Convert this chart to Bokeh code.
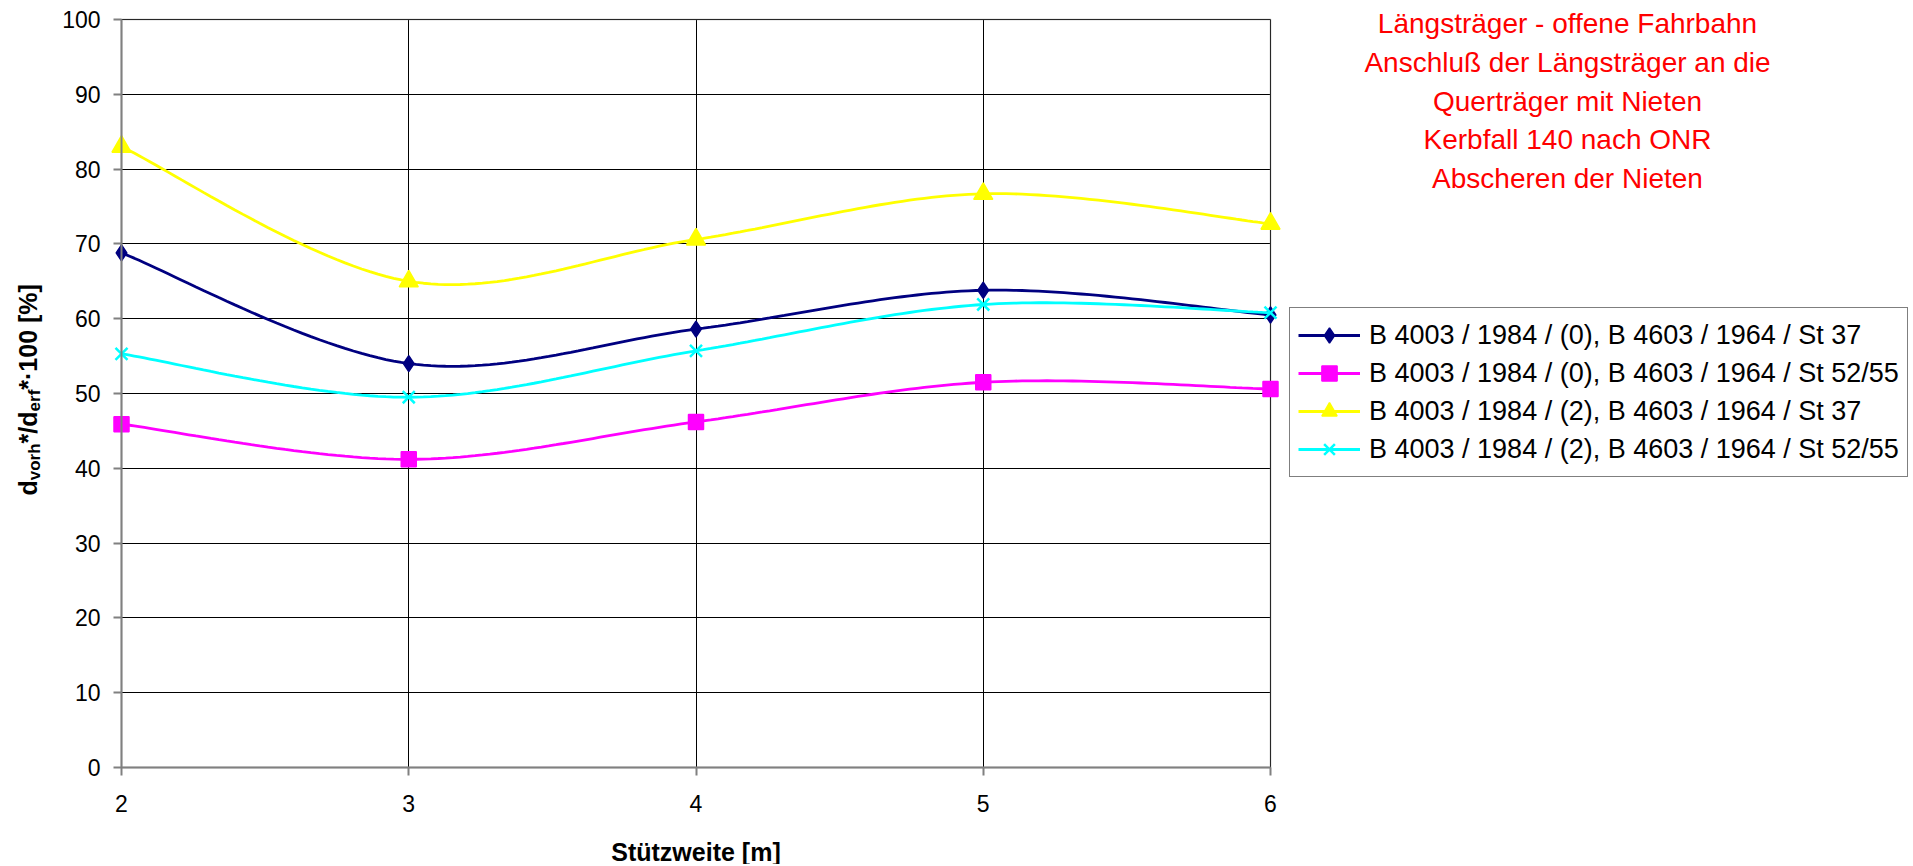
import numpy as np
from bokeh.plotting import figure
from bokeh.models import (Label, Legend, LegendItem, Range1d, FixedTicker,
                          LinearAxis, Grid, BoxAnnotation)
from bokeh.embed import file_html
from bokeh.resources import INLINE

# ---------------- data ----------------
x_values = [2, 3, 4, 5, 6]
series_names = [
    "B 4003 / 1984 / (0), B 4603 / 1964 / St 37",
    "B 4003 / 1984 / (0), B 4603 / 1964 / St 52/55",
    "B 4003 / 1984 / (2), B 4603 / 1964 / St 37",
    "B 4003 / 1984 / (2), B 4603 / 1964 / St 52/55",
]
s_0_st37 = [68.8, 54.0, 58.6, 63.8, 60.5]
s_0_st52 = [45.9, 41.2, 46.2, 51.5, 50.6]
s_2_st37 = [83.0, 65.0, 70.6, 76.7, 72.7]
s_2_st52 = [55.3, 49.5, 55.7, 61.9, 60.8]
y_ticks = [0, 10, 20, 30, 40, 50, 60, 70, 80, 90, 100]
x_ticks = [2, 3, 4, 5, 6]
title_lines = [
    "Längsträger - offene Fahrbahn",
    "Anschluß der Längsträger an die",
    "Querträger mit Nieten",
    "Kerbfall 140 nach ONR",
    "Abscheren der Nieten",
]
x_title = "Stützweite [m]"

FONT = "Liberation Sans"
W, H = 1911, 864
# plot area in page pixels
PL, PR, PT, PB = 121, 1270, 19, 767
X0, X1, Y0, Y1 = 2, 6, 0, 100


def smooth(xs, ys, n=40):
    """Excel-like smoothed line (Catmull-Rom as cubic Bezier) through the points."""
    x = np.asarray(xs, float)
    y = np.asarray(ys, float)
    px = np.concatenate([[x[0]], x, [x[-1]]])
    py = np.concatenate([[y[0]], y, [y[-1]]])
    t = np.linspace(0, 1, n)
    ox, oy = [], []
    for i in range(len(x) - 1):
        p0 = np.array([px[i], py[i]])
        p1 = np.array([px[i + 1], py[i + 1]])
        p2 = np.array([px[i + 2], py[i + 2]])
        p3 = np.array([px[i + 3], py[i + 3]])
        c1 = p1 + (p2 - p0) / 6.0
        c2 = p2 - (p3 - p1) / 6.0
        b = ((1 - t) ** 3)[:, None] * p1 + (3 * (1 - t) ** 2 * t)[:, None] * c1 \
            + (3 * (1 - t) * t ** 2)[:, None] * c2 + (t ** 3)[:, None] * p2
        if i > 0:
            b = b[1:]
        ox.extend(b[:, 0])
        oy.extend(b[:, 1])
    return ox, oy


# the frame covers the whole canvas; ranges chosen so the plot area sits at PL..PR, PT..PB
kx = (PR - PL) / (X1 - X0)
ky = (PB - PT) / (Y1 - Y0)
x_range = Range1d(X0 - PL / kx, X0 + (W - PL) / kx)
y_range = Range1d(Y0 - (H - PB) / ky, Y1 + PT / ky)

p = figure(
    width=W, height=H, x_range=x_range, y_range=y_range,
    x_axis_location=None, y_axis_location=None, min_border=0,
    output_backend="svg", toolbar_location=None,
    background_fill_color="white", border_fill_color="white",
)
p.outline_line_color = None
p.center = [r for r in p.center if not isinstance(r, Grid)]

# grid lines limited to the plot area
gx = Grid(dimension=0, ticker=FixedTicker(ticks=x_ticks), bounds=(X0, X1),
          cross_bounds=(Y0, Y1), grid_line_color="black", grid_line_width=1)
gy = Grid(dimension=1, ticker=FixedTicker(ticks=y_ticks), bounds=(Y0, Y1),
          cross_bounds=(X0, X1), grid_line_color="black", grid_line_width=1)
p.add_layout(gx)
p.add_layout(gy)

# grey plot-area border
p.add_layout(BoxAnnotation(left=X0, right=X1, bottom=Y0, top=Y1,
                           fill_alpha=0, line_color="#808080", line_width=2,
                           level="underlay"))

# axes at fixed positions
yax = LinearAxis(fixed_location=X0, bounds=(Y0, Y1), ticker=FixedTicker(ticks=y_ticks))
xax = LinearAxis(fixed_location=Y0, bounds=(X0, X1), ticker=FixedTicker(ticks=x_ticks))
for ax in (xax, yax):
    ax.axis_line_color = "#808080"
    ax.axis_line_width = 2
    ax.major_tick_line_color = "#808080"
    ax.major_tick_line_width = 2
    ax.major_tick_out = 8
    ax.major_tick_in = 0
    ax.minor_tick_line_color = None
    ax.major_label_text_font = FONT
    ax.major_label_text_font_size = "23px"
    ax.major_label_text_color = "black"
yax.major_label_standoff = 13
xax.major_label_standoff = 19
p.add_layout(yax, "left")
p.add_layout(xax, "below")

# ---------------- series ----------------
specs = [
    (s_0_st37, "#000080", "diamond", 16),
    (s_0_st52, "#FF00FF", "square", 15),
    (s_2_st37, "#FFFF00", "triangle", 19),
    (s_2_st52, "#00FFFF", "x", 17),
]
items = []
for name, (vals, color, marker, size) in zip(series_names, specs):
    sx, sy = smooth(x_values, vals)
    lr = p.line(sx, sy, line_color=color, line_width=2.8)
    if marker == "x":
        mr = p.scatter(x_values, vals, marker="x", size=size, line_color=color,
                       line_width=2.5)
    else:
        mr = p.scatter(x_values, vals, marker=marker, size=size,
                       fill_color=color, line_color=color, line_width=1.5)
    items.append(LegendItem(label=name, renderers=[lr, mr]))

legend = Legend(
    items=items, location=(1289, H - 477),
    label_text_font=FONT, label_text_font_size="27px", label_text_color="black",
    glyph_width=62, glyph_height=38, label_height=38, label_standoff=9,
    spacing=0, padding=8, margin=0,
    border_line_color="black", border_line_width=1,
    background_fill_color="white", background_fill_alpha=1.0,
)
p.add_layout(legend)


def shift(fs):
    # Bokeh puts the alphabetic baseline a little below the anchor; compensate
    return 0.32 * fs


# ---------------- title (red, top right) ----------------
for k, line in enumerate(title_lines):
    bl = 32 + 38.8 * k
    p.add_layout(Label(
        x=1567, y=H - bl + shift(28), x_units="screen", y_units="screen",
        text=line, text_align="center", text_baseline="alphabetic",
        text_color="#FF0000", text_font=FONT, text_font_size="28px",
    ))

# ---------------- x axis title ----------------
p.add_layout(Label(
    x=(PL + PR) / 2, y=H - 859 + shift(25), x_units="screen", y_units="screen",
    text=x_title, text_align="center", text_baseline="alphabetic",
    text_color="black", text_font=FONT, text_font_size="25px",
    text_font_style="bold",
))

# ---------------- y axis title with sub-scripts (rotated) ----------------
adv = {"d": .611, "v": .556, "o": .611, "r": .389, "h": .611, "*": .389,
       "/": .278, "e": .556, "f": .333, "·": .278, " ": .278, "1": .556,
       "0": .556, "[": .333, "%": .889, "]": .333}
pieces = [("d", 25, False), ("vorh", 17, True), ("*/d", 25, False),
          ("erf", 17, True), ("*·100 [%]", 25, False)]
pos = H - 495.0
for txt, fs, sub in pieces:
    base_x = 39 if sub else 35
    p.add_layout(Label(
        x=base_x - shift(fs), y=pos, x_units="screen", y_units="screen",
        angle=np.pi / 2, text=txt, text_align="left", text_baseline="alphabetic",
        text_color="black", text_font=FONT, text_font_size=f"{fs}px",
        text_font_style="bold",
    ))
    pos += sum(adv.get(c, .556) for c in txt) * fs

open("out.html", "w").write(file_html(p, INLINE))
